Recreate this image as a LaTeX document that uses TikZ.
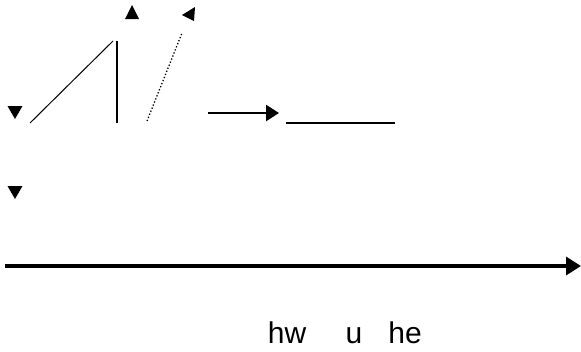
\documentclass[tikz,border=0pt]{standalone}
\usepackage{fontspec}
\setmainfont{Liberation Sans}
\usetikzlibrary{arrows.meta}
\begin{document}
\begin{tikzpicture}[
  x=1pt, y=-1pt,
  tipmark/.style={fill=black},
  thinline/.style={draw=black, line width=1pt},
  arrowline/.style={draw=black, line width=2.6pt, -{Triangle[length=13pt, width=16pt]}},
  lbl/.style={font=\fontsize{30}{32}\selectfont, inner sep=0pt, anchor=base}
]
  \useasboundingbox (0,0) rectangle (581,351);

  % lone arrow heads
  \coordinate (t1) at (15,112);
  \coordinate (t2) at (132,12);
  \coordinate (t3) at (188,14);
  \coordinate (t4) at (15,192);
  \fill[tipmark] (t1) +(-7.5,-6) -- +(7.5,-6) -- +(0,7) -- cycle;
  \fill[tipmark] (t2) +(-7,7) -- +(7,7) -- +(0,-7) -- cycle;
  \fill[tipmark] (t3) +(7,-7) -- +(6,7) -- +(-6,1) -- cycle;
  \fill[tipmark] (t4) +(-7.5,-6) -- +(7.5,-6) -- +(0,7) -- cycle;

  % end points
  \coordinate (d1) at (30,123);
  \coordinate (d2) at (113,41);
  \coordinate (v1) at (117,41);
  \coordinate (v2) at (117,123);
  \coordinate (p1) at (147,121);
  \coordinate (p2) at (182,33);
  \coordinate (a1) at (208,113);
  \coordinate (a2) at (279,113);
  \coordinate (h1) at (286,123);
  \coordinate (h2) at (395,123);
  \coordinate (x1) at (5,266);
  \coordinate (x2) at (581,266);

  % lines
  \draw[thinline] (d1) -- (d2);
  \draw[thinline, line width=1.4pt] (v1) -- (v2);
  \draw[thinline, line width=1.3pt, dotted] (p1) -- (p2);
  \draw[arrowline] (a1) -- (a2);
  \draw[thinline, line width=1.6pt] (h1) -- (h2);
  \draw[arrowline, line width=3.4pt, -{Triangle[length=15pt, width=18pt]}] (x1) -- (x2);

  % text
  \node[lbl] (w1) at (287,343) {hw};
  \node[lbl] (w2) at (354,343) {u};
  \node[lbl] (w3) at (405,343) {he};
\end{tikzpicture}
\end{document}
